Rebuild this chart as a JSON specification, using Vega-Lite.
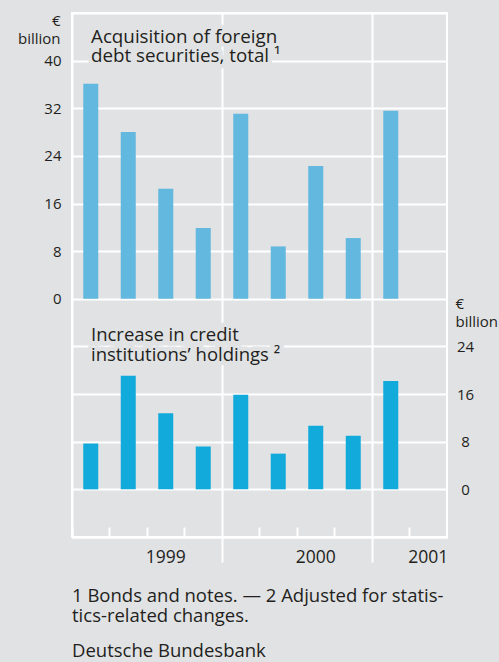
{
  "$schema": "https://vega.github.io/schema/vega-lite/v6.json",
  "width": 375,
  "height": 524,
  "autosize": "none",
  "padding": {"left": 72, "top": 13, "right": 52, "bottom": 125},
  "background": "#e1e2e4",
  "config": {
    "font": "Open Sans",
    "view": {"stroke": "white", "strokeWidth": 2, "fill": "#e1e2e4"}
  },
  "title": {
    "text": ["1 Bonds and notes. — 2 Adjusted for statis-", "tics-related changes."],
    "subtitle": "Deutsche Bundesbank",
    "orient": "bottom",
    "anchor": "start",
    "frame": "group",
    "font": "Open Sans",
    "fontSize": 18.5,
    "fontWeight": "normal",
    "color": "#231f20",
    "lineHeight": 20,
    "subtitleFont": "Open Sans",
    "subtitleFontSize": 18.5,
    "subtitleColor": "#231f20",
    "subtitlePadding": 17,
    "offset": -14
  },
  "datasets": {
    "acq": [
      {"quarter": "1999Q1", "value": 36.1},
      {"quarter": "1999Q2", "value": 28.0},
      {"quarter": "1999Q3", "value": 18.5},
      {"quarter": "1999Q4", "value": 11.9},
      {"quarter": "2000Q1", "value": 31.1},
      {"quarter": "2000Q2", "value": 8.8},
      {"quarter": "2000Q3", "value": 22.3},
      {"quarter": "2000Q4", "value": 10.2},
      {"quarter": "2001Q1", "value": 31.6}
    ],
    "inc": [
      {"quarter": "1999Q1", "value": 7.7},
      {"quarter": "1999Q2", "value": 19.1},
      {"quarter": "1999Q3", "value": 12.8},
      {"quarter": "1999Q4", "value": 7.2},
      {"quarter": "2000Q1", "value": 15.9},
      {"quarter": "2000Q2", "value": 6.0},
      {"quarter": "2000Q3", "value": 10.7},
      {"quarter": "2000Q4", "value": 9.0},
      {"quarter": "2001Q1", "value": 18.2}
    ],
    "one": [{"k": 1}]
  },
  "layer": [
    {
      "layer": [
        {
          "data": {"name": "acq"},
          "mark": {"type": "bar", "width": {"band": 0.4}, "color": "#62b8de"},
          "encoding": {
            "x": {
              "field": "quarter",
              "type": "ordinal",
              "scale": {
                "domain": ["1999Q1","1999Q2","1999Q3","1999Q4","2000Q1","2000Q2","2000Q3","2000Q4","2001Q1","2001Q2"],
                "paddingInner": 0,
                "paddingOuter": 0
              },
              "axis": {
                "title": null,
                "bandPosition": 0,
                "domainColor": "white",
                "domainWidth": 2,
                "tickColor": "white",
                "tickWidth": 2,
                "tickSize": {"condition": {"test": "datum.value === '2000Q1' || datum.value === '2001Q1'", "value": 25}, "value": -10},
                "grid": true,
                "gridColor": "white",
                "gridWidth": 2,
                "gridOpacity": {"condition": {"test": "datum.value === '1999Q1' || datum.value === '2000Q1' || datum.value === '2001Q1'", "value": 1}, "value": 0},
                "labelExpr": "datum.value === '1999Q3' ? '1999' : datum.value === '2000Q3' ? '2000' : datum.value === '2001Q2' ? '2001' : ''",
                "labelAngle": 0,
                "labelAlign": "center",
                "labelFontSize": 17.5,
                "labelColor": "#231f20",
                "labelPadding": 21,
                "labelOverlap": false
              }
            },
            "y": {
              "field": "value",
              "type": "quantitative",
              "scale": {"domain": [-40, 48], "nice": false, "zero": false},
              "axis": {
                "orient": "left",
                "values": [-40, -32, -24, -16, -8, 0, 8, 16, 24, 32, 40, 48],
                "grid": true,
                "gridColor": "white",
                "gridWidth": 2,
                "domain": false,
                "ticks": false,
                "labelExpr": "datum.value >= 0 && datum.value <= 40 ? datum.label : ''",
                "labelFontSize": 15,
                "labelPadding": 11,
                "labelColor": "#231f20",
                "title": ["€", "billion"],
                "titleAngle": 0,
                "titleAlign": "right",
                "titleBaseline": "alphabetic",
                "titleX": -12,
                "titleY": 12.7,
                "titleFontSize": 15,
                "titleFontWeight": "normal",
                "titleLineHeight": 18,
                "titleColor": "#231f20"
              }
            }
          }
        },
        {
          "data": {"name": "one"},
          "mark": {"type": "text", "text": ["Acquisition of foreign", "debt securities, total ¹"], "align": "left", "baseline": "alphabetic", "fontSize": 18.8, "lineHeight": 19, "dx": 19, "fill": "#e1e2e4", "stroke": "#e1e2e4", "strokeWidth": 9, "strokeJoin": "round"},
          "encoding": {
            "x": {"datum": "1999Q1", "bandPosition": 0},
            "y": {"datum": 43.0}
          }
        },
        {
          "data": {"name": "one"},
          "mark": {"type": "text", "text": ["Acquisition of foreign", "debt securities, total ¹"], "align": "left", "baseline": "alphabetic", "fontSize": 18.8, "lineHeight": 19, "dx": 19, "color": "#231f20"},
          "encoding": {
            "x": {"datum": "1999Q1", "bandPosition": 0},
            "y": {"datum": 43.0}
          }
        }
      ]
    },
    {
      "layer": [
        {
          "data": {"name": "inc"},
          "mark": {"type": "bar", "width": {"band": 0.4}, "color": "#12aadb"},
          "encoding": {
            "x": {"field": "quarter", "type": "ordinal"},
            "y": {
              "field": "value",
              "type": "quantitative",
              "scale": {"domain": [-8, 80], "nice": false, "zero": false},
              "axis": {
                "orient": "right",
                "values": [0, 8, 16, 24],
                "grid": false,
                "domain": false,
                "ticks": false,
                "labelAlign": "center",
                "labelPadding": 18,
                "labelFontSize": 15,
                "labelColor": "#231f20",
                "title": ["€", "billion"],
                "titleAngle": 0,
                "titleAlign": "left",
                "titleBaseline": "alphabetic",
                "titleX": 8,
                "titleY": 295,
                "titleFontSize": 15,
                "titleFontWeight": "normal",
                "titleLineHeight": 18,
                "titleColor": "#231f20"
              }
            }
          }
        },
        {
          "data": {"name": "one"},
          "mark": {"type": "text", "text": ["Increase in credit", "institutions’ holdings ²"], "align": "left", "baseline": "alphabetic", "fontSize": 18.5, "lineHeight": 20, "dx": 19, "fill": "#e1e2e4", "stroke": "#e1e2e4", "strokeWidth": 9, "strokeJoin": "round"},
          "encoding": {
            "x": {"datum": "1999Q1", "bandPosition": 0},
            "y": {"datum": 24.9}
          }
        },
        {
          "data": {"name": "one"},
          "mark": {"type": "text", "text": ["Increase in credit", "institutions’ holdings ²"], "align": "left", "baseline": "alphabetic", "fontSize": 18.5, "lineHeight": 20, "dx": 19, "color": "#231f20"},
          "encoding": {
            "x": {"datum": "1999Q1", "bandPosition": 0},
            "y": {"datum": 24.9}
          }
        }
      ]
    }
  ],
  "resolve": {"scale": {"y": "independent"}, "axis": {"y": "independent"}}
}
